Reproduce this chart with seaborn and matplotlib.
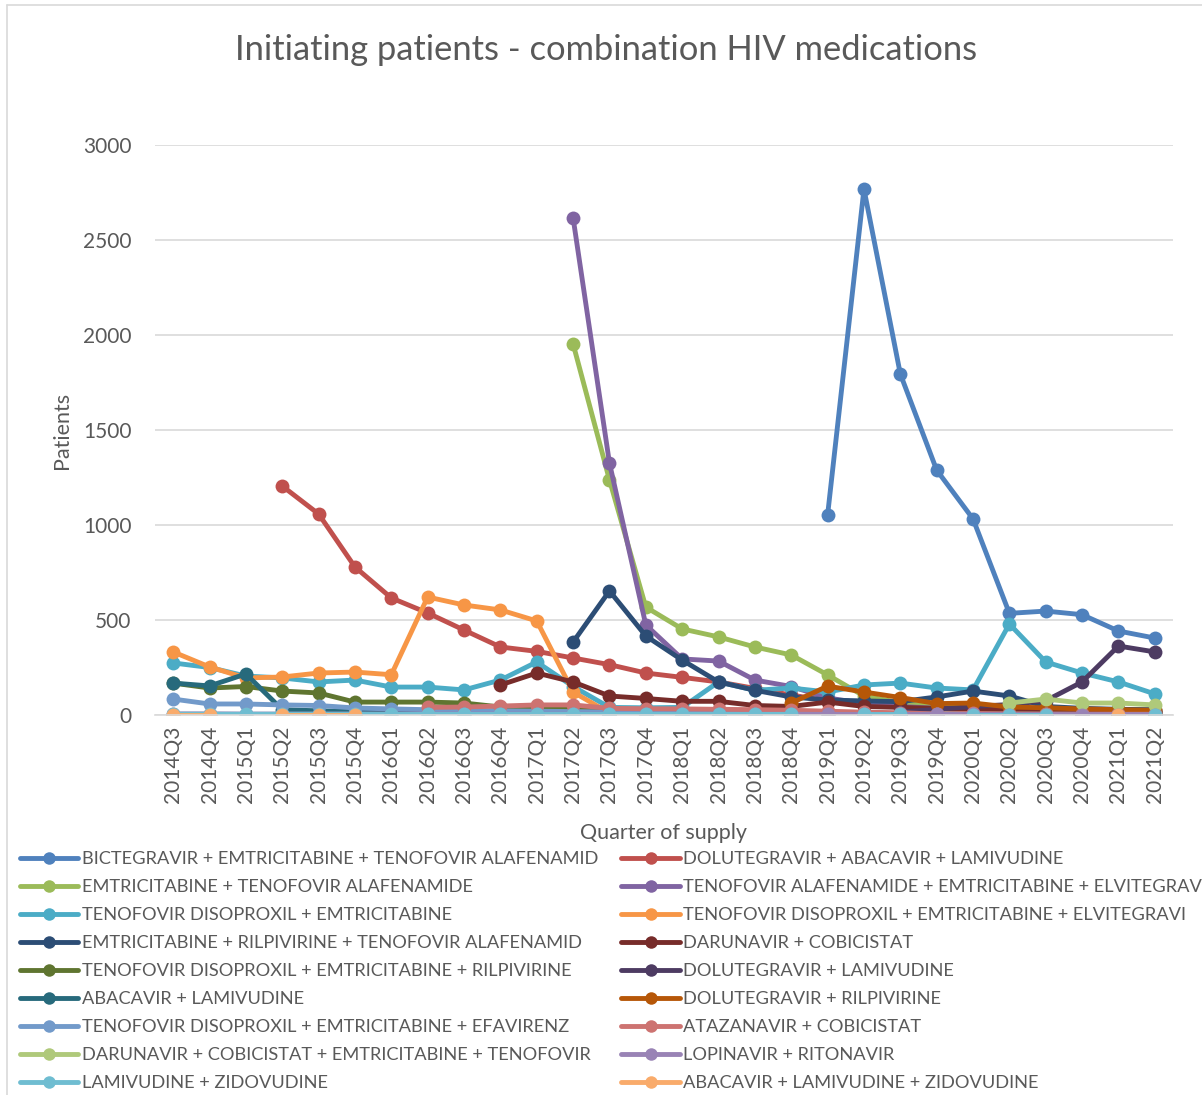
import numpy as np
import pandas as pd
import seaborn as sns
import matplotlib.pyplot as plt
from matplotlib.lines import Line2D

N = np.nan

# quarters on the x axis
quarters = ['2014Q3', '2014Q4', '2015Q1', '2015Q2', '2015Q3', '2015Q4', '2016Q1',
            '2016Q2', '2016Q3', '2016Q4', '2017Q1', '2017Q2', '2017Q3', '2017Q4',
            '2018Q1', '2018Q2', '2018Q3', '2018Q4', '2019Q1', '2019Q2', '2019Q3',
            '2019Q4', '2020Q1', '2020Q2', '2020Q3', '2020Q4', '2021Q1', '2021Q2']

# series names (legend order, row by row)
names = [
    'BICTEGRAVIR + EMTRICITABINE + TENOFOVIR ALAFENAMID',
    'DOLUTEGRAVIR + ABACAVIR + LAMIVUDINE',
    'EMTRICITABINE + TENOFOVIR ALAFENAMIDE',
    'TENOFOVIR ALAFENAMIDE + EMTRICITABINE + ELVITEGRAV',
    'TENOFOVIR DISOPROXIL + EMTRICITABINE',
    'TENOFOVIR DISOPROXIL + EMTRICITABINE + ELVITEGRAVI',
    'EMTRICITABINE + RILPIVIRINE + TENOFOVIR ALAFENAMID',
    'DARUNAVIR + COBICISTAT',
    'TENOFOVIR DISOPROXIL + EMTRICITABINE + RILPIVIRINE',
    'DOLUTEGRAVIR + LAMIVUDINE',
    'ABACAVIR + LAMIVUDINE',
    'DOLUTEGRAVIR + RILPIVIRINE',
    'TENOFOVIR DISOPROXIL + EMTRICITABINE + EFAVIRENZ',
    'ATAZANAVIR + COBICISTAT',
    'DARUNAVIR + COBICISTAT + EMTRICITABINE + TENOFOVIR',
    'LOPINAVIR + RITONAVIR',
    'LAMIVUDINE + ZIDOVUDINE',
    'ABACAVIR + LAMIVUDINE + ZIDOVUDINE',
]

colors = ['#4F81BD', '#C0504D', '#9BBB59', '#8064A2', '#4BACC6', '#F79646',
          '#2C4D75', '#772C2A', '#5F7530', '#4D3B62', '#276A7C', '#B65708',
          '#729ACA', '#CD7371', '#AFC97A', '#9983B5', '#6FBDD1', '#F9AB6B']

bictegravir = [N] * 18 + [1053, 2768, 1795, 1289, 1032, 535, 547, 528, 442, 405]
dtg_abc_3tc = [N, N, N, 1205, 1058, 779, 616, 537, 447, 358, 335, 300, 265, 221,
               198, 174, 140, 105, 75, 55, 45, 35, 30, 25, 20, 18, 15, 12]
ftc_taf = [N] * 11 + [1953, 1237, 568, 453, 411, 358, 316, 211, 100, 65, 50, 40,
                      35, 30, 25, 20, 15]
taf_ftc_evg = [N] * 11 + [2616, 1326, 474, 295, 284, 184, 150, 90, 60, 45, 35, 30,
                          25, 20, 15, 12, 10]
tdf_ftc = [274, 250, 205, 195, 174, 184, 147, 147, 132, 184, 279, 150, 40, 38,
           40, 174, 130, 142, 121, 158, 168, 142, 132, 479, 279, 221, 174, 111]
tdf_ftc_evg = [332, 253, 195, 200, 221, 226, 212, 621, 579, 553, 495, 121, 10] + [N] * 15
ftc_rpv_taf = [N] * 11 + [384, 653, 416, 289, 174, 130, 95, 79, 74, 70, 95, 126,
                          100, 45, 35, 30, 28]
drv_cobi = [N] * 9 + [158, 221, 174, 100, 87, 72, 72, 50, 45, 68, 45, 40, 35, 30,
                      25, 22, 20, 18, 15]
tdf_ftc_rpv = [168, 142, 150, 126, 116, 68, 68, 68, 63, 42, 35, 30, 25, 22, 20,
               18, 15, 12, 10, 8, 7, 6, 5, 5, 4, 4, 3, 3]
dtg_3tc = [N] * 20 + [15, 30, 45, 55, 75, 174, 363, 332]
abc_3tc = [168, 153, 216, 28, 22, 18, 15, 12, 10, 8, 7, 6, 5, 5, 4, 4, 3, 3, 3,
           2, 2, 2, 2, 2, 1, 1, 1, 1]
dtg_rpv = [N] * 17 + [63, 152, 121, 92, 60, 63, 42, 38, 32, 28, 25]
tdf_ftc_efv = [84, 58, 58, 53, 50, 37, 32, 28, 25, 22, 20, 18, 16, 14, 12, 11,
               10, 9, 8, 7, 6, 5, 5, 4, 4, 3, 3, 3]
atv_cobi = [N] * 7 + [40, 42, 47, 53, 53, 35, 33, 32, 30, 28, 25, 20, 15, 12, 5,
                      8, 6, 5, 5, 4, 4]
drv_cobi_ftc_tdf = [N] * 23 + [63, 84, 63, 63, 53]
lpv_r = [6, 6, 5, 5, 5, 5, 5, 5, 5, 5, 4, 4, 4, 4, 4, 4, 4, 4, 3, 3, 3, 3, 3, 2,
         2, 2, 2, 2]
lam_zdv = [4, 4, 4, 4, 4, 4, 3, 3, 3, 3, 3, 3, 3, 3, 3, 3, 3, 3, N, 3, 3, N, 2,
           2, 2, N, N, 2]
abc_3tc_zdv = [2, 2, N, 2, 2, 2] + [N] * 20 + [2, N]

series = [bictegravir, dtg_abc_3tc, ftc_taf, taf_ftc_evg, tdf_ftc, tdf_ftc_evg,
          ftc_rpv_taf, drv_cobi, tdf_ftc_rpv, dtg_3tc, abc_3tc, dtg_rpv,
          tdf_ftc_efv, atv_cobi, drv_cobi_ftc_tdf, lpv_r, lam_zdv, abc_3tc_zdv]

# long table; gaps in a series split it into separate segments
frames = []
for name, vals in zip(names, series):
    v = pd.Series(vals, dtype=float)
    frames.append(pd.DataFrame({'pos': range(len(quarters)), 'patients': v,
                                'series': name, 'segment': v.isna().cumsum()}))
df = pd.concat(frames).dropna(subset=['patients'])

sns.set_style('white')
plt.rcParams['font.family'] = ['Lato', 'DejaVu Sans']
text_col = '#595959'

fig = plt.figure(figsize=(12.02, 10.95), dpi=100)
ax = fig.add_axes([155 / 1202, 1 - 715 / 1095, 1018 / 1202, 570 / 1095])

sns.lineplot(data=df, x='pos', y='patients', hue='series', hue_order=names,
             palette=colors, units='segment', estimator=None, sort=False,
             marker='o', markersize=10, markeredgewidth=0, linewidth=3.5,
             legend=False, ax=ax)

ax.set_xlim(-0.5, len(quarters) - 0.5)
ax.set_ylim(0, 3000)
ax.set_yticks(range(0, 3001, 500))
ax.set_xticks(range(len(quarters)))
ax.set_xticklabels(quarters, rotation=90)
ax.tick_params(axis='both', length=0, labelsize=15, colors=text_col)
ax.tick_params(axis='y', pad=17)
ax.tick_params(axis='x', pad=8)
ax.yaxis.grid(True, color='#D9D9D9', linewidth=1.2)
for s in ['top', 'right', 'left']:
    ax.spines[s].set_visible(False)
ax.spines['bottom'].set_color('#D9D9D9')
ax.spines['bottom'].set_linewidth(1.2)

ax.set_xlabel('Quarter of supply', fontsize=15.5, color=text_col)
ax.set_ylabel('Patients', fontsize=15.5, color=text_col)
ax.xaxis.set_label_coords(0.5, -0.19)
ax.yaxis.set_label_coords(-0.082, 0.5)

fig.text(0.504, 1 - 50 / 1095, 'Initiating patients - combination HIV medications',
         ha='center', va='center', fontsize=24.8, color=text_col)

# legend, two columns filled row by row
handles = [Line2D([], [], color=c, linewidth=3.5, marker='o', markersize=9,
                  markeredgewidth=0) for c in colors]
order = list(range(0, len(names), 2)) + list(range(1, len(names), 2))
fig.legend([handles[i] for i in order], [names[i] for i in order],
           loc='upper left', bbox_to_anchor=(20 / 1202, 1 - 851 / 1095), ncol=2,
           frameon=False, fontsize=13.15, labelcolor=text_col, handlelength=3.2,
           handletextpad=0.2, columnspacing=1.25, borderpad=0, borderaxespad=0,
           labelspacing=0.66)

# light chart-area border
fig.add_artist(Line2D([7 / 1202, 1], [1 - 5 / 1095] * 2, color='#D9D9D9', linewidth=1.2))
fig.add_artist(Line2D([7 / 1202] * 2, [0, 1 - 5 / 1095], color='#D9D9D9', linewidth=1.2))

fig.savefig('out.png', dpi=100, facecolor='white')
